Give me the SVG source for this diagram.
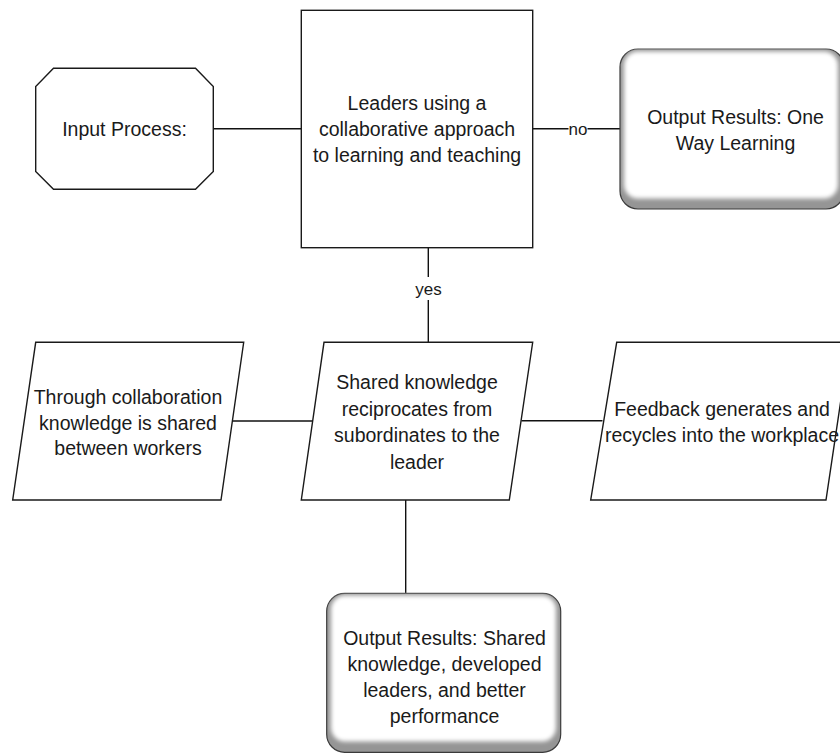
<svg xmlns="http://www.w3.org/2000/svg" width="840" height="753" viewBox="0 0 840 753">
<style>
.shape{fill:#fff;stroke:#1a1a1a;stroke-width:1.4}
.bev{fill:#959595;stroke:#3a3a3a;stroke-width:1.2}
.bevin{fill:#fff;filter:url(#soft)}
.conn{stroke:#111;stroke-width:1.4;fill:none}
.t{font-family:"Liberation Sans",Arial,sans-serif;font-size:19.5px;fill:#1a1a1a;text-anchor:middle}
.lbl{font-family:"Liberation Sans",Arial,sans-serif;font-size:17px;fill:#1a1a1a;text-anchor:middle}
.lblbg{fill:#fff}
</style>
<defs>
<filter id="soft" x="-10%" y="-10%" width="120%" height="120%">
<feGaussianBlur stdDeviation="2.2"/>
</filter>
</defs>
<g id="connectors">
<line class="conn" x1="213" y1="128.7" x2="301" y2="128.7"/>
<line class="conn" x1="533" y1="128.7" x2="620" y2="128.7"/>
<rect class="lblbg" x="568.5" y="121" width="19" height="17"/>
<text class="lbl" x="578" y="135">no</text>
<line class="conn" x1="428.3" y1="248" x2="428.3" y2="342"/>
<rect class="lblbg" x="415" y="277" width="27" height="23"/>
<text class="lbl" x="428.5" y="295">yes</text>
<line class="conn" x1="232" y1="421" x2="313" y2="421"/>
<line class="conn" x1="521.5" y1="420.7" x2="602.5" y2="420.7"/>
<line class="conn" x1="405.7" y1="500" x2="405.7" y2="593"/>
</g>
<g id="input">
<polygon class="shape" points="53.5,68.3 195.5,68.3 213.3,86.5 213.3,171.5 195.5,189.3 53.5,189.3 35.7,171.5 35.7,86.5"/>
<text class="t" x="124.5" y="135.5">Input Process:</text>
</g>
<g id="decision">
<rect class="shape" x="301.3" y="10.3" width="231.4" height="237.4"/>
<text class="t" x="417" y="110">Leaders using a</text>
<text class="t" x="417" y="136">collaborative approach</text>
<text class="t" x="417" y="162">to learning and teaching</text>
</g>
<g id="oneway">
<rect class="bev" x="620" y="49" width="224" height="160" rx="18"/>
<rect class="bevin" x="624" y="51.5" width="214" height="147" rx="14"/>
<text class="t" x="735.5" y="123.5">Output Results: One</text>
<text class="t" x="735.5" y="149.5">Way Learning</text>
</g>
<g id="through">
<polygon class="shape" points="35.7,342.3 243.7,342.3 221,500 12.7,500"/>
<text class="t" x="128" y="403.7">Through collaboration</text>
<text class="t" x="128" y="429.5">knowledge is shared</text>
<text class="t" x="128" y="455.3">between workers</text>
</g>
<g id="shared">
<polygon class="shape" points="324,342.3 532.7,342.3 509.3,500 301.3,500"/>
<text class="t" x="417" y="389.3">Shared knowledge</text>
<text class="t" x="417" y="415.8">reciprocates from</text>
<text class="t" x="417" y="442.2">subordinates to the</text>
<text class="t" x="417" y="468.7">leader</text>
</g>
<g id="feedback">
<polygon class="shape" points="616.7,342.3 849.5,342.3 826,500 590.7,500"/>
<text class="t" x="722" y="416.3">Feedback generates and</text>
<text class="t" x="722" y="442">recycles into the workplace</text>
</g>
<g id="results">
<rect class="bev" x="326.7" y="593.3" width="234" height="159" rx="18"/>
<rect class="bevin" x="331" y="595.5" width="225" height="146" rx="14"/>
<text class="t" x="444.5" y="644.5">Output Results: Shared</text>
<text class="t" x="444.5" y="670.8">knowledge, developed</text>
<text class="t" x="444.5" y="697">leaders, and better</text>
<text class="t" x="444.5" y="723.3">performance</text>
</g>
</svg>
